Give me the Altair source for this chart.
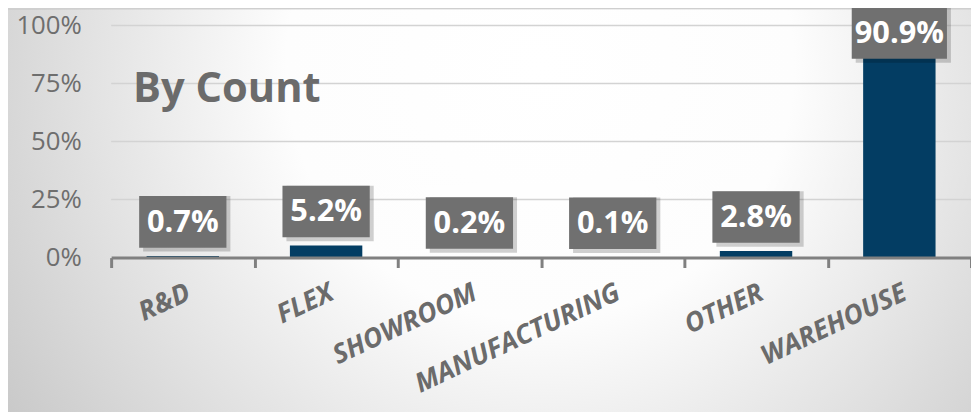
import altair as alt
import pandas as pd

categories = ["R&D", "FLEX", "SHOWROOM", "MANUFACTURING", "OTHER", "WAREHOUSE"]
shares = [0.007, 0.052, 0.002, 0.001, 0.028, 0.909]
y_ticks = [0.25, 0.5, 0.75, 1.0]
title_text = "By Count"

df = pd.DataFrame({"cat": categories, "share": shares})
grid_df = pd.DataFrame({"g": y_ticks})

W, H = 867, 234
FONT = "Open Sans"
order = categories

x_enc = alt.X("cat:N", sort=order, title=None,
              scale=alt.Scale(paddingInner=0, paddingOuter=0),
              axis=alt.Axis(labelAngle=-25, labelAlign="right", labelBaseline="top",
                            labelPadding=12, labelFont=FONT, labelFontSize=27,
                            labelFontWeight="bold", labelFontStyle="italic",
                            labelColor="#6b6b6b", tickBand="extent", ticks=True,
                            tickSize=10, tickWidth=3, tickColor="#808080",
                            domainColor="#808080", domainWidth=3, grid=False,
                            labelOverlap=False, labelLimit=500, zindex=1))

y_scale = alt.Scale(domain=[0, 1], nice=False)

bg = alt.Chart(df).mark_rect(
    color=alt.RadialGradient(
        gradient="radial", x1=0.55, y1=0.35, r1=0.0, x2=0.55, y2=0.35, r2=0.75,
        stops=[alt.GradientStop(offset=0, color="#ffffff"),
               alt.GradientStop(offset=0.35, color="#fdfdfd"),
               alt.GradientStop(offset=1, color="#bdbdbd")]),
    clip=False
).encode(x=alt.value(-104), x2=alt.value(W + 4), y=alt.value(-16), y2=alt.value(H + 158))

grid = alt.Chart(grid_df).mark_rule(color="#d3d3d3", strokeWidth=1.5).encode(
    y=alt.Y("g:Q", scale=y_scale), x=alt.value(0), x2=alt.value(W))

bars = alt.Chart(df).mark_bar(size=73, color="#033d63").encode(
    x=x_enc,
    y=alt.Y("share:Q", scale=y_scale, title=None,
            axis=alt.Axis(values=[0, 0.25, 0.5, 0.75, 1], format=".0%", ticks=False,
                          domain=False, labelFont=FONT, labelFontSize=26,
                          labelColor="#6e6e6e", labelPadding=30, grid=False,
                          zindex=1)),
)

lab = alt.Chart(df).transform_calculate(
    c="min(datum.share + 0.147, 0.968)",
    lo="datum.c - 0.111",
    hi="datum.c + 0.111",
    txt="format(datum.share, '.1%')",
    bw="80 + length(datum.txt) * 2 + (length(datum.txt) - 4) * 6",
)

shadow = lab.mark_bar(color="#000000", opacity=0.18, xOffset=4, yOffset=4).encode(
    x=alt.X("cat:N", sort=order), y="lo:Q", y2="hi:Q",
    size=alt.Size("bw:Q", scale=None, legend=None))

box = lab.mark_bar(color="#707070").encode(
    x=alt.X("cat:N", sort=order), y="lo:Q", y2="hi:Q",
    size=alt.Size("bw:Q", scale=None, legend=None))

txt = lab.mark_text(font=FONT, fontSize=31, fontWeight="bold", color="#ffffff",
                    baseline="middle", align="center", dy=1).encode(
    x=alt.X("cat:N", sort=order), y="c:Q", text="txt:N")

title = alt.Chart(pd.DataFrame({"t": [title_text]})).mark_text(
    font=FONT, fontSize=42, fontWeight="bold", color="#6b6b6b",
    align="left", baseline="middle").encode(
    x=alt.value(22), y=alt.value(64), text="t:N")

chart = alt.layer(bg, grid, bars, shadow, box, txt, title).properties(
    width=W, height=H,
    autosize=alt.AutoSizeParams(type="none"),
    padding={"left": 104, "top": 16, "right": 0, "bottom": 154},
    background="#cfcfcf",
).configure_view(stroke=None)

chart.save("out.html", embed_options={"renderer": "svg", "actions": False})
